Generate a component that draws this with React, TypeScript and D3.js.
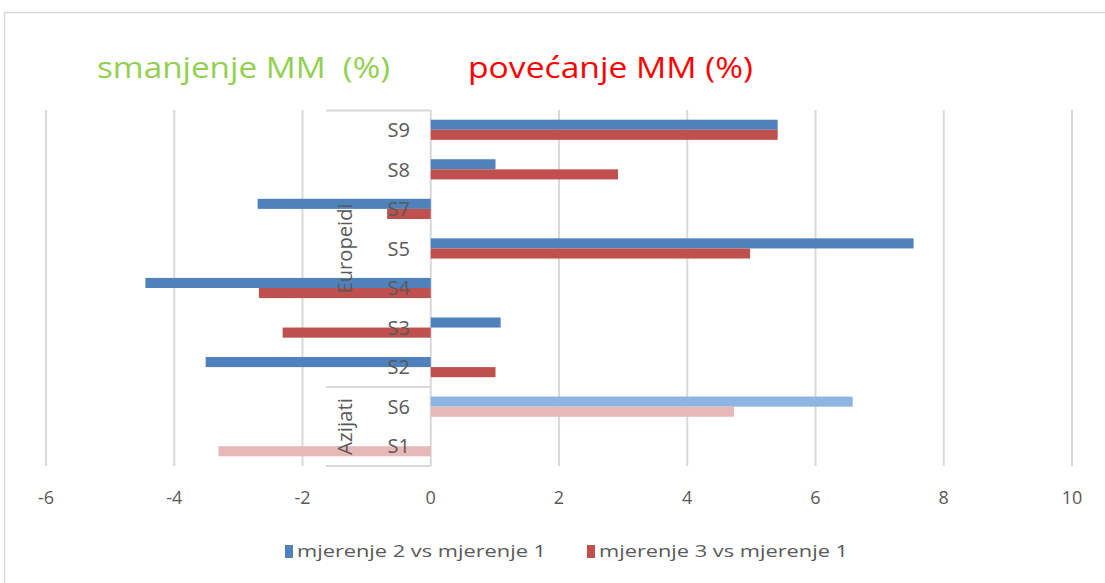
import React from "react";
import * as d3 from "d3";

const categories = ["S9", "S8", "S7", "S5", "S4", "S3", "S2", "S6", "S1"];
const mjerenje2 = [5.41, 1.01, -2.7, 7.53, -4.45, 1.09, -3.51, 6.58, 0];
const mjerenje3 = [5.41, 2.92, -0.68, 4.98, -2.68, -2.31, 1.01, 4.73, -3.31];
const groupNames = ["Europeidi", "Azijati"];
const groupMembers = [
  ["S9", "S8", "S7", "S5", "S4", "S3", "S2"],
  ["S6", "S1"],
];
const xTicks = [-6, -4, -2, 0, 2, 4, 6, 8, 10];
const seriesNames = ["mjerenje 2 vs mjerenje 1", "mjerenje 3 vs mjerenje 1"];

const W = 1105;
const H = 583;
const font = "'Open Sans', sans-serif";
const axisGray = "#595959";
const gridGray = "#d9d9d9";
const colors = ["#4f81bd", "#c0504d"];
const lightColors = ["#8eb4e3", "#e6b9b8"];

export default function App() {
  const x = d3.scaleLinear().domain([-6, 10]).range([46, 1072]);
  const y = d3.scaleBand().domain(categories).range([110, 466]).paddingInner(0.49).paddingOuter(0.245);
  const sub = d3.scaleBand().domain(["0", "1"]).range([0, y.bandwidth()]);
  const step = y.step();
  const series = [mjerenje2, mjerenje3];
  const boxLeft = 326;

  const bandTop = (c: string) => (y(c) as number) - (step - y.bandwidth()) / 2;

  return (
    <div style={{ position: "fixed", left: 0, top: 0 }}>
      <svg width={W} height={H} style={{ display: "block", background: "#fff" }}>
        {/* chart frame */}
        <rect x={4.5} y={12.5} width={W + 10} height={H + 10} fill="none" stroke="#d9d9d9" strokeWidth={1.5} />

        {/* titles */}
        <text x={97} y={78} fontFamily={font} fontSize={30} fill="#92d050" textLength={293} lengthAdjust="spacingAndGlyphs">
          {"smanjenje MM\u00a0 (%)"}
        </text>
        <text x={468} y={78} fontFamily={font} fontSize={30} fill="#ff0000" textLength={285} lengthAdjust="spacingAndGlyphs">
          povećanje MM (%)
        </text>

        {/* grid */}
        {xTicks.filter((t) => t !== 0).map((t) => (
          <line key={t} x1={x(t)} x2={x(t)} y1={110} y2={466} stroke={gridGray} strokeWidth={2} />
        ))}

        {/* category box */}
        <rect x={boxLeft} y={110} width={x(0) - boxLeft} height={356} fill="#fff" />
        <line x1={boxLeft} x2={x(0)} y1={110.5} y2={110.5} stroke={gridGray} strokeWidth={2} />
        {groupMembers.map((m, i) => {
          const yb = bandTop(m[m.length - 1]) + step;
          return <line key={i} x1={boxLeft} x2={x(0)} y1={yb} y2={yb} stroke={gridGray} strokeWidth={2} />;
        })}
        <line x1={x(0)} x2={x(0)} y1={110} y2={466} stroke={gridGray} strokeWidth={2} />

        {/* bars */}
        {series.map((vals, s) =>
          categories.map((c, i) => {
            const v = vals[i];
            if (v === 0) return null;
            const isAsian = groupMembers[1].includes(c);
            const fill = isAsian ? lightColors[s] : colors[s];
            return (
              <rect
                key={s + c}
                x={Math.min(x(0), x(v))}
                y={(y(c) as number) + (sub(String(s)) as number)}
                width={Math.abs(x(v) - x(0))}
                height={sub.bandwidth()}
                fill={fill}
              />
            );
          })
        )}

        {/* category labels */}
        {categories.map((c) => (
          <text
            key={c}
            x={410}
            y={(y(c) as number) + y.bandwidth() / 2}
            dy="0.36em"
            textAnchor="end"
            fontFamily={font}
            fontSize={20}
            fill={axisGray}
          >
            {c}
          </text>
        ))}

        {/* group labels */}
        {groupNames.map((g, i) => {
          const m = groupMembers[i];
          const cy = (bandTop(m[0]) + bandTop(m[m.length - 1]) + step) / 2;
          return (
            <text
              key={g}
              transform={`translate(345,${cy}) rotate(-90)`}
              dy="0.36em"
              textAnchor="middle"
              fontFamily={font}
              fontSize={20}
              fill={axisGray}
              textLength={i === 0 ? 90 : 57}
              lengthAdjust="spacingAndGlyphs"
            >
              {g}
            </text>
          );
        })}

        {/* x tick labels */}
        {xTicks.map((t) => (
          <text key={t} x={x(t)} y={498} dy="0.36em" textAnchor="middle" fontFamily={font} fontSize={18} fill={axisGray}>
            {t}
          </text>
        ))}

        {/* legend */}
        {seriesNames.map((n, i) => {
          const lx = [285, 587][i];
          return (
            <g key={n}>
              <rect x={lx} y={545} width={8} height={13} fill={colors[i]} />
              <text x={lx + 12} y={551} dy="0.36em" fontFamily={font} fontSize={17} fill={axisGray} textLength={249} lengthAdjust="spacingAndGlyphs">
                {n}
              </text>
            </g>
          );
        })}
      </svg>
    </div>
  );
}
